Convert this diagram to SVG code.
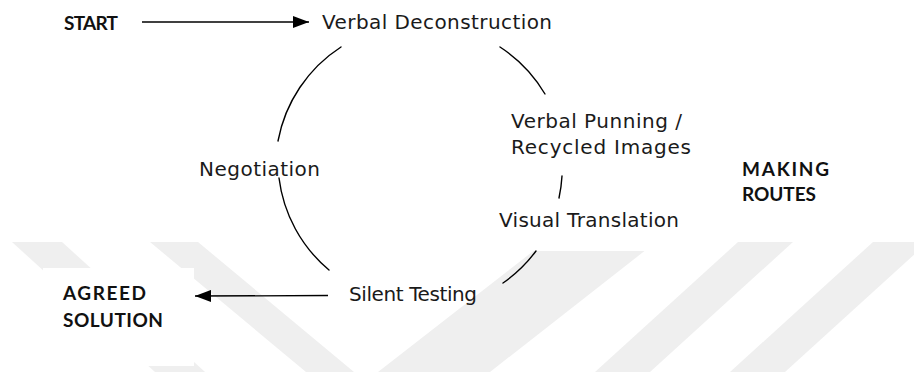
<svg xmlns="http://www.w3.org/2000/svg" width="914" height="372" viewBox="0 0 914 372">
  <style>
    .lbl { font-family: "DejaVu Sans", "Liberation Sans", sans-serif; font-size: 20px; fill: #1a1a1a; }
    .bold { font-family: Lato, "Liberation Sans", sans-serif; font-size: 19px; font-weight: 700; fill: #111; }
    .arc { fill: none; stroke: #000; stroke-width: 1.4; stroke-linecap: round; }
    .arrow { fill: none; stroke: #000; stroke-width: 1.3; }
    .bg { fill: #fff; }
    .wm { fill: #efefef; }
  </style>
  <defs>
    <marker id="head" viewBox="0 0 16 12" refX="16" refY="6" markerWidth="16" markerHeight="12" markerUnits="userSpaceOnUse" orient="auto">
      <path d="M0,0 L16,6 L0,12 Z" fill="#000"/>
    </marker>
    <clipPath id="lower">
      <rect x="0" y="242" width="914" height="130"/>
    </clipPath>
  </defs>

  <rect width="914" height="372" fill="#fff"/>

  <!-- faint diagonal background stripes -->
  <g id="backdrop" class="wm" clip-path="url(#lower)">
    <polygon points="12,242 62,242 205,372 155,372"/>
    <polygon points="150,242 198,242 354,372 306,372"/>
    <polygon points="545,242 656,242 490,372 378,372"/>
    <polygon points="738,242 793,242 650,372 595,372"/>
    <polygon points="873,242 928,242 785,372 730,372"/>
  </g>

  <g id="start">
    <text class="bold" x="64" y="29.5" textLength="54" lengthAdjust="spacing">START</text>
  </g>

  <g id="verbal-deconstruction">
    <text class="lbl" x="322" y="28.5" textLength="230" lengthAdjust="spacing">Verbal Deconstruction</text>
  </g>

  <g id="verbal-punning">
    <text class="lbl" x="511" y="128" textLength="171" lengthAdjust="spacing">Verbal Punning /</text>
    <text class="lbl" x="511" y="154" textLength="180" lengthAdjust="spacing">Recycled Images</text>
  </g>

  <g id="visual-translation">
    <rect class="bg" x="490" y="205" width="200" height="46"/>
    <text class="lbl" x="499" y="226.5" textLength="180" lengthAdjust="spacing">Visual Translation</text>
  </g>

  <g id="silent-testing">
    <rect class="bg" x="330" y="270" width="117" height="48"/>
    <text class="lbl" x="349" y="301" textLength="128" lengthAdjust="spacing">Silent Testing</text>
  </g>

  <g id="negotiation">
    <text class="lbl" x="199" y="176" textLength="121" lengthAdjust="spacing">Negotiation</text>
  </g>

  <g id="agreed-solution">
    <rect class="bg" x="43" y="268" width="151" height="98"/>
    <text class="bold" x="63" y="300" textLength="83" lengthAdjust="spacing">AGREED</text>
    <text class="bold" x="63" y="326.5" textLength="100" lengthAdjust="spacing">SOLUTION</text>
  </g>

  <g id="making-routes">
    <text class="bold" x="742" y="176" textLength="87" lengthAdjust="spacing">MAKING</text>
    <text class="bold" x="742" y="201" textLength="74" lengthAdjust="spacing">ROUTES</text>
  </g>

  <g id="connectors">
    <!-- entry and exit arrows -->
    <line class="arrow" x1="142" y1="22" x2="309" y2="22" marker-end="url(#head)"/>
    <line class="arrow" x1="328" y1="295.5" x2="195" y2="296" marker-end="url(#head)"/>
    <!-- cycle arcs between the stages -->
    <path class="arc" d="M341,47 A143,143 0 0 0 278,141"/>
    <path class="arc" d="M279,178 A143,143 0 0 0 329,270"/>
    <path class="arc" d="M500,47 A143,143 0 0 1 545,94"/>
    <path class="arc" d="M562,176 A143,143 0 0 1 559,198"/>
    <path class="arc" d="M536,251 A143,143 0 0 1 503,283"/>
  </g>
</svg>
